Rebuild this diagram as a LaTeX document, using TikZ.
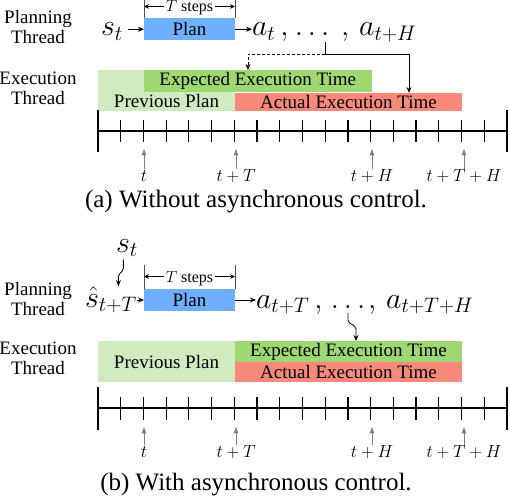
\RequirePackage{fix-cm}
\documentclass[tikz,border=0pt]{standalone}
\usepackage{fontspec}
\setmainfont{Liberation Serif}
\usetikzlibrary{arrows.meta}
\definecolor{planblue}{RGB}{110,176,255}
\definecolor{lightgreen}{RGB}{209,235,192}
\definecolor{midgreen}{RGB}{157,216,114}
\definecolor{salmon}{RGB}{249,137,123}
\begin{document}
\begin{tikzpicture}[x=1pt,y=-1pt,
  lbl/.style={font=\fontsize{19}{20}\selectfont, align=center, inner sep=0},
  tbox/.style={anchor=north west, inner sep=0, outer sep=0, font=\fontsize{19}{20}\selectfont},
  bigm/.style={font=\fontsize{30}{30}\selectfont, inner sep=0, outer sep=0, anchor=base west},
  tml/.style={font=\fontsize{17.5}{17.5}\selectfont, inner sep=0, text height=12pt, text depth=1pt},
  tst/.style={font=\fontsize{16}{16}\selectfont, inner xsep=1.5pt, inner ysep=0pt, text height=11pt, text depth=0pt, anchor=base},
  arr/.style={-{Stealth[length=6pt,width=5pt]}, line width=0.8pt},
  sarr/.style={-{Stealth[length=5pt,width=4.5pt]}, line width=0.7pt},
  garr/.style={-{Latex[length=7pt,width=5pt]}, line width=0.9pt, draw=black!50, fill=black!50},
  tline/.style={line width=1.2pt},
  dimbar/.style={line width=0.7pt, draw=black!70},
  capt/.style={font=\fontsize{25}{26}\selectfont, inner sep=0},
]
\useasboundingbox (0,0) rectangle (510,500);

% ================= (a) =================
\node[lbl] (pt1) at (38,27) {Planning\\Thread};
\node[lbl] (et1) at (38,88) {Execution\\Thread};

\node[tbox, fill=planblue, minimum width=91pt, minimum height=22.5pt] (plan1) at (144,18) {Plan};
\node[bigm] (st1) at (101,36) {$s_t$};
\node[bigm] (a1a) at (252,36) {$a_t\,,$};
\node[bigm, anchor=base] (dots1) at (312,36) {$\ldots$};
\node[bigm] (a1b) at (341,36) {$,\,a_{t+H}$};

\node[tst] (ts1) at (189.5,12) {$T$ steps};
\draw[dimbar] (plan1.north west) -- ++(0,-18);
\draw[dimbar] (plan1.north east) -- ++(0,-18);
\draw[sarr] (ts1.west) -- (plan1.north west |- ts1.west);
\draw[sarr] (ts1.east) -- (plan1.north east |- ts1.east);

\draw[arr, shorten <=5pt] (st1.east |- plan1.west) -- (plan1.west);
\draw[arr] (plan1.east) -- (a1a.west |- plan1.east);

\node[tbox, fill=lightgreen, minimum width=137pt, minimum height=41pt] (prev1) at (98,70) {};
\node[tbox, fill=midgreen, minimum width=227.5pt, minimum height=22pt] (exp1) at (144,70) {Expected Execution Time};
\node[tbox, fill=salmon, minimum width=227pt, minimum height=18pt] (act1) at (235,93) {Actual Execution Time};
\node[lbl] (pp1) at (166.5,101) {Previous Plan};

\draw[line width=0.8pt] ([xshift=-4pt,yshift=-6pt]dots1.south east) -- ++(0,12) coordinate (dj1);
\draw[arr] (dj1) -| ([xshift=60.5pt]act1.north);
\draw[arr, dash pattern=on 3pt off 2pt] (dj1) -| ([xshift=104pt]exp1.north west);

% timeline (a)
\draw[tline] (98,131) -- (507,131);
\draw[tline] (98,110) -- (98,152);
\draw[tline] (507,110) -- (507,152);
\foreach \i in {1,...,17} \draw[tline] (98+22.72*\i,120) -- ++(0,21.7);

\node[tml] (la1) at (144,176) {$t$};
\node[tml] (lb1) at (236,176) {$t+T$};
\node[tml] (lc1) at (372,176) {$t+H$};
\node[tml] (ld1) at (464,176) {$t+T+H$};
\foreach \n in {la1,lb1,lc1,ld1} \draw[garr] (\n.north) -- ++(0,-21);
\node[capt] (cap1) at (256,202) {(a) Without asynchronous control.};

% ================= (b) =================
\node[lbl] (pt2) at (38,299) {Planning\\Thread};
\node[lbl] (et2) at (38,358) {Execution\\Thread};

\node[tbox, fill=planblue, minimum width=91pt, minimum height=22pt] (plan2) at (144,289) {Plan};
\node[bigm] (st2) at (116,252) {$s_t$};
\node[bigm] (sh) at (85,307) {$\hat{s}_{t+T}$};
\node[bigm] (a2a) at (256,308) {$a_{t+T}\,,$};
\node[bigm, anchor=base] (dots2) at (348,308) {$\ldots$};
\node[bigm] (a2b) at (368,308) {$,\,a_{t+T+H}$};

\node[tst] (ts2) at (189.5,282) {$T$ steps};
\draw[dimbar] (plan2.north west) -- ++(0,-24);
\draw[dimbar] (plan2.north east) -- ++(0,-24);
\draw[sarr] (ts2.west) -- (plan2.north west |- ts2.west);
\draw[sarr] (ts2.east) -- (plan2.north east |- ts2.east);

\draw[arr] (sh.east |- plan2.west) -- (plan2.west);
\draw[arr] (plan2.east) -- (a2a.west |- plan2.east);

\draw[arr, rounded corners=2pt] ([xshift=-3.5pt,yshift=-3pt]st2.south) -- ++(0,11) -- ++(-5,4) coordinate (q1) -- (q1 |- sh.north);

\node[tbox, fill=lightgreen, minimum width=137pt, minimum height=41pt] (prev2) at (98,341) {};
\node[tbox, fill=midgreen, minimum width=227pt, minimum height=21pt] (exp2) at (235,341) {Expected Execution Time};
\node[tbox, fill=salmon, minimum width=227pt, minimum height=20pt] (act2) at (235,362) {Actual Execution Time};
\node[lbl] (pp2) at (166.5,361.5) {Previous Plan};

\draw[arr, rounded corners=2pt] ([yshift=-5pt]dots2.south) -- ++(0,9) -- ++(8,5) coordinate (q2) -- (q2 |- exp2.north);

% timeline (b)
\draw[tline] (98,408) -- (507,408);
\draw[tline] (98,387) -- (98,430);
\draw[tline] (507,387) -- (507,430);
\foreach \i in {1,...,17} \draw[tline] (98+22.72*\i,397) -- ++(0,22.5);

\node[tml] (la2) at (144,452) {$t$};
\node[tml] (lb2) at (236,452) {$t+T$};
\node[tml] (lc2) at (372,452) {$t+H$};
\node[tml] (ld2) at (464,452) {$t+T+H$};
\foreach \n in {la2,lb2,lc2,ld2} \draw[garr] (\n.north) -- ++(0,-19);
\node[capt] (cap2) at (256,485) {(b) With asynchronous control.};
\end{tikzpicture}
\end{document}
